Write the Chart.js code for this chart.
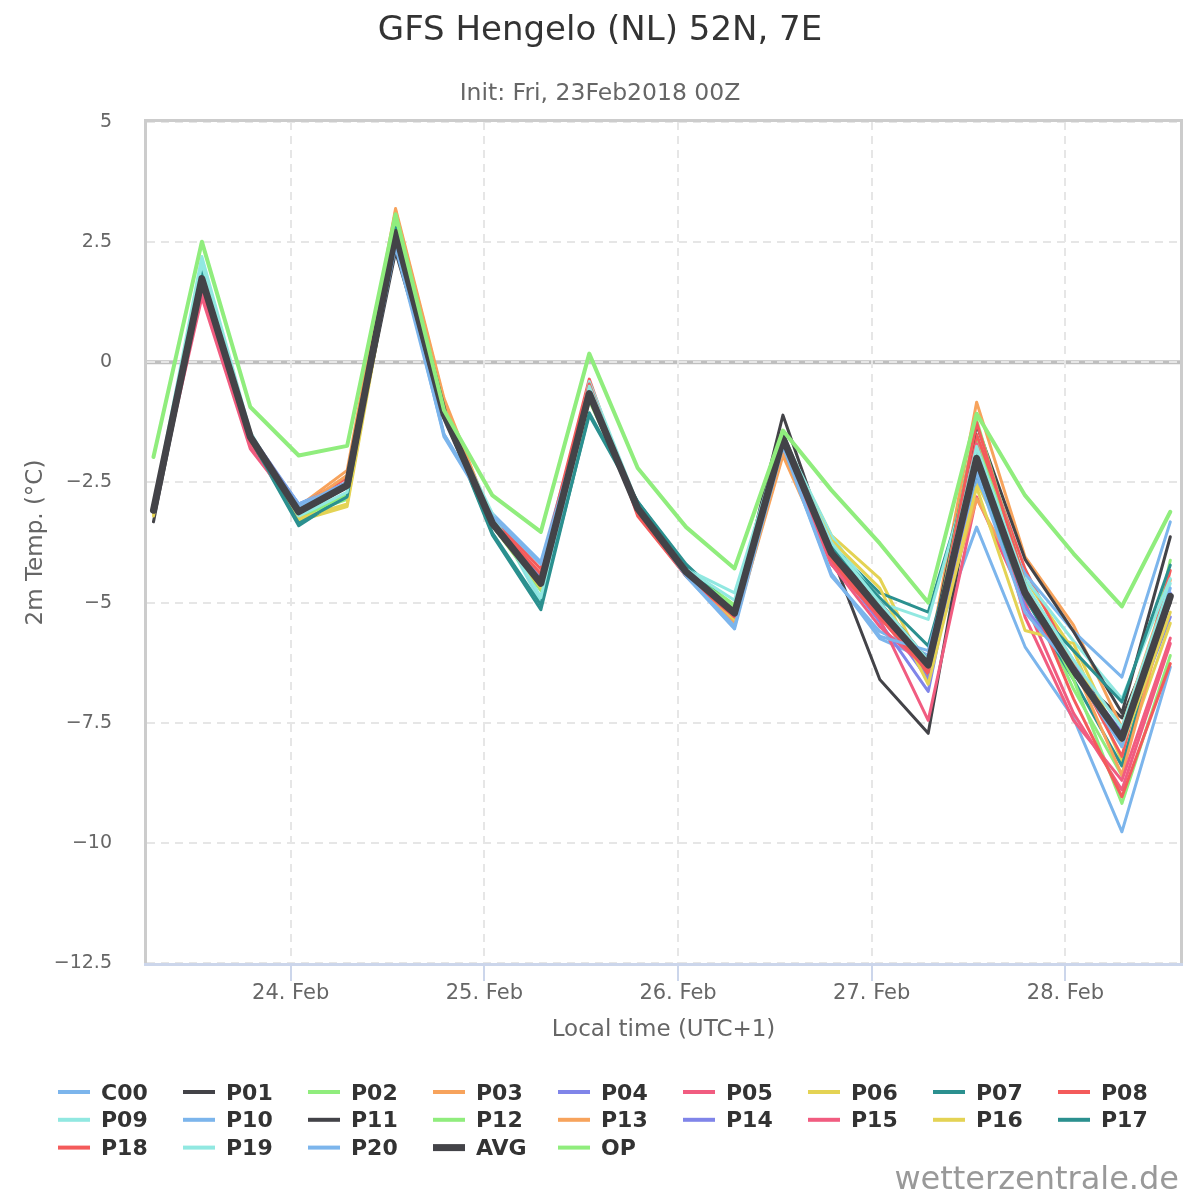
<!DOCTYPE html>
<html>
<head>
<meta charset="utf-8">
<title>GFS Hengelo (NL) 52N, 7E</title>
<script src="https://cdn.jsdelivr.net/npm/chart.js@4.4.1/dist/chart.umd.min.js"></script>
<style>
  html, body { margin: 0; padding: 0; background: #fff; }
  canvas { display: block; }
</style>
</head>
<body>
<canvas id="chart" width="1200" height="1200"></canvas>
<script>
// hours after 24 Feb 00:00 local time (UTC+1), one run step every 6 h
const hours = [-17, -11, -5, 1, 7, 13, 19, 25, 31, 37, 43, 49, 55, 61, 67, 73, 79, 85, 91, 97, 103, 109];
const dayTicks = [0, 24, 48, 72, 96];
const dayLabels = ['24. Feb', '25. Feb', '26. Feb', '27. Feb', '28. Feb'];

// 2m temperature (°C) per ensemble member
const c00 = [-3.05, 1.80, -1.50, -2.95, -2.50, 2.65, -1.50, -3.15, -4.15, -0.60, -3.00, -4.45, -5.55, -1.75, -4.40, -5.75, -6.20, -3.43, -5.92, -7.40, -9.77, -6.34];
const p01 = [-3.32, 1.70, -1.50, -3.15, -2.60, 2.50, -1.10, -3.40, -4.70, -0.70, -3.00, -4.35, -5.20, -1.10, -4.00, -6.60, -7.72, -2.10, -4.90, -6.50, -7.40, -5.00];
const p02 = [-3.10, 1.90, -1.55, -3.20, -2.85, 2.90, -1.00, -3.30, -4.70, -0.70, -3.05, -4.30, -5.05, -1.50, -3.90, -5.10, -6.55, -1.60, -4.60, -6.80, -8.60, -4.12];
const p03 = [-3.05, 1.75, -1.60, -3.00, -2.25, 3.20, -0.75, -3.30, -4.50, -0.55, -3.05, -4.40, -5.45, -1.94, -4.20, -5.30, -6.20, -0.83, -4.05, -5.47, -7.60, -4.53];
const p04 = [-3.10, 1.70, -1.55, -2.95, -2.50, 2.70, -1.10, -3.35, -4.55, -0.70, -3.05, -4.40, -5.25, -1.60, -4.10, -5.40, -6.85, -1.90, -4.70, -6.20, -7.90, -5.30];
const p05 = [-3.10, 1.50, -1.75, -3.10, -2.55, 2.60, -1.15, -3.40, -4.60, -0.60, -3.10, -4.40, -5.30, -1.70, -4.10, -5.35, -7.45, -2.80, -5.00, -7.30, -8.90, -5.85];
const p06 = [-3.20, 1.80, -1.50, -3.30, -3.00, 2.60, -1.10, -3.40, -4.70, -0.70, -3.00, -4.30, -5.40, -1.60, -3.60, -4.50, -6.50, -2.50, -4.50, -6.00, -8.30, -5.43];
const p07 = [-3.10, 1.85, -1.60, -3.40, -2.75, 2.75, -1.10, -3.60, -5.15, -1.05, -2.90, -4.20, -5.15, -1.50, -3.80, -4.80, -5.20, -1.90, -4.90, -6.60, -8.40, -4.90];
const p08 = [-3.05, 1.65, -1.50, -3.00, -2.40, 2.70, -1.00, -3.25, -4.30, -0.35, -3.20, -4.45, -5.35, -1.65, -4.20, -5.30, -6.50, -1.50, -4.30, -6.30, -8.20, -4.33];
const p09 = [-3.00, 2.20, -1.45, -3.15, -2.80, 2.75, -1.05, -3.15, -5.00, -0.40, -2.95, -4.30, -4.80, -1.55, -3.60, -5.00, -5.35, -1.80, -4.50, -5.80, -7.00, -4.50];
const p10 = [-3.05, 1.80, -1.55, -2.95, -2.50, 2.60, -1.55, -3.20, -4.90, -0.75, -3.10, -4.45, -5.45, -1.75, -4.45, -5.60, -6.10, -2.42, -4.40, -5.60, -6.55, -3.32];
const p11 = [-3.10, 1.75, -1.55, -3.10, -2.60, 2.30, -1.10, -3.30, -4.60, -0.70, -3.05, -4.35, -5.20, -1.55, -3.90, -5.00, -6.20, -1.30, -4.10, -5.60, -7.30, -3.63];
const p12 = [-3.10, 1.75, -1.60, -3.25, -2.75, 2.80, -1.00, -3.40, -4.75, -0.80, -3.00, -4.30, -5.10, -1.60, -3.90, -5.20, -6.40, -1.20, -4.60, -6.60, -9.18, -6.10];
const p13 = [-3.05, 1.70, -1.55, -3.05, -2.35, 3.15, -0.80, -3.30, -4.45, -0.60, -3.05, -4.35, -5.40, -1.90, -4.00, -5.20, -6.30, -2.84, -4.70, -6.30, -8.59, -4.90];
const p14 = [-3.10, 1.70, -1.50, -3.00, -2.50, 2.75, -1.15, -3.35, -4.50, -0.65, -3.10, -4.40, -5.30, -1.65, -4.00, -5.20, -6.60, -2.20, -5.10, -6.40, -7.70, -4.80];
const p15 = [-3.05, 1.35, -1.80, -3.10, -2.60, 2.60, -1.10, -3.35, -4.55, -0.65, -3.10, -4.40, -5.25, -1.70, -4.20, -5.50, -6.40, -1.70, -5.30, -7.45, -8.70, -5.74];
const p16 = [-3.15, 1.75, -1.55, -3.25, -2.95, 2.70, -1.10, -3.40, -4.70, -0.75, -3.00, -4.35, -5.35, -1.65, -3.70, -4.70, -6.70, -2.60, -5.58, -5.85, -8.00, -5.20];
const p17 = [-3.10, 1.90, -1.60, -3.35, -2.80, 2.80, -1.10, -3.55, -5.05, -1.10, -2.90, -4.25, -5.20, -1.60, -3.85, -4.90, -5.90, -2.30, -4.90, -6.00, -7.07, -4.22];
const p18 = [-3.10, 1.60, -1.65, -3.05, -2.50, 2.65, -1.05, -3.30, -4.40, -0.45, -3.15, -4.45, -5.30, -1.60, -4.10, -5.30, -6.45, -1.25, -4.60, -7.00, -9.04, -6.27];
const p19 = [-3.05, 2.05, -1.50, -3.20, -2.70, 2.70, -1.05, -3.20, -4.90, -0.50, -3.00, -4.30, -4.95, -1.55, -3.75, -5.00, -6.20, -1.75, -4.60, -6.20, -7.60, -4.60];
const p20 = [-3.05, 1.75, -1.55, -3.00, -2.50, 2.40, -1.50, -3.20, -4.20, -0.70, -3.05, -4.45, -5.50, -1.75, -4.40, -5.70, -6.00, -2.30, -5.20, -6.40, -8.00, -4.70];
const avg = [-3.08, 1.74, -1.55, -3.11, -2.56, 2.70, -1.08, -3.35, -4.60, -0.65, -3.04, -4.36, -5.22, -1.58, -3.97, -5.16, -6.30, -2.00, -4.80, -6.40, -7.82, -4.87];
const op  = [-1.97, 2.51, -0.93, -1.94, -1.74, 3.08, -1.00, -2.77, -3.53, 0.18, -2.20, -3.43, -4.29, -1.42, -2.66, -3.77, -5.00, -1.07, -2.77, -3.98, -5.08, -3.11];

const seriesNames = ['C00', 'P01', 'P02', 'P03', 'P04', 'P05', 'P06', 'P07', 'P08', 'P09', 'P10',
  'P11', 'P12', 'P13', 'P14', 'P15', 'P16', 'P17', 'P18', 'P19', 'P20', 'AVG', 'OP'];
const seriesValues = [c00, p01, p02, p03, p04, p05, p06, p07, p08, p09, p10,
  p11, p12, p13, p14, p15, p16, p17, p18, p19, p20, avg, op];
const palette = ['#7cb5ec', '#434348', '#90ed7d', '#f7a35c', '#8085e9', '#f15c80', '#e4d354', '#2b908f', '#f45b5b', '#91e8e1'];

const FONT = '"DejaVu Sans", sans-serif';
Chart.defaults.font.family = FONT;

const datasets = seriesNames.map((name, i) => ({
  label: name,
  data: hours.map((h, j) => ({ x: h, y: seriesValues[i][j] })),
  borderColor: palette[i % palette.length],
  borderWidth: name === 'AVG' ? 7 : (name === 'OP' ? 4 : 3),
  pointRadius: 0,
  tension: 0,
  fill: false,
  borderJoinStyle: 'round',
  borderCapStyle: 'round',
  order: seriesNames.length - i // later series on top
}));

// grey zero line under the grid
const zeroLine = {
  id: 'zeroLine',
  beforeDraw(chart) {
    const { ctx, chartArea } = chart;
    const y = chart.scales.y.getPixelForValue(0);
    ctx.save();
    ctx.strokeStyle = '#bfbfbf';
    ctx.lineWidth = 4;
    ctx.beginPath();
    ctx.moveTo(chartArea.left, y);
    ctx.lineTo(chartArea.right, y);
    ctx.stroke();
    ctx.restore();
  }
};

const plotFrame = {
  id: 'plotFrame',
  afterDatasetsDraw(chart) {
    const { ctx, chartArea: a } = chart;
    ctx.save();
    ctx.strokeStyle = '#cccccc';
    ctx.lineWidth = 3;
    ctx.strokeRect(a.left - 1.5, a.top - 1.5, a.right - a.left + 3, a.bottom - a.top + 3);
    ctx.strokeStyle = '#ccd6eb';
    ctx.beginPath();
    ctx.moveTo(a.left - 3, a.bottom + 1.5);
    ctx.lineTo(a.right + 3, a.bottom + 1.5);
    ctx.stroke();
    ctx.restore();
  }
};

// title, subtitle, 9-column legend and credit
const texts = {
  id: 'texts',
  afterDraw(chart) {
    const ctx = chart.ctx;
    ctx.save();
    ctx.textAlign = 'center';
    ctx.textBaseline = 'alphabetic';
    ctx.fillStyle = '#333333';
    ctx.font = '34px ' + FONT;
    ctx.fillText('GFS Hengelo (NL) 52N, 7E', 600, 40);
    ctx.fillStyle = '#666666';
    ctx.font = '23.5px ' + FONT;
    ctx.fillText('Init: Fri, 23Feb2018 00Z', 600, 100);

    ctx.textAlign = 'left';
    ctx.font = 'bold 22px ' + FONT;
    chart.data.datasets.forEach((ds, i) => {
      const x = 58 + (i % 9) * 125;
      const y = 1092 + Math.floor(i / 9) * 27.8;
      ctx.strokeStyle = ds.borderColor;
      ctx.lineWidth = ds.label === 'AVG' ? 7 : 4;
      ctx.beginPath();
      ctx.moveTo(x, y);
      ctx.lineTo(x + 32, y);
      ctx.stroke();
      ctx.fillStyle = '#333333';
      ctx.fillText(ds.label, x + 43, y + 7.5);
    });

    ctx.textAlign = 'right';
    ctx.fillStyle = '#999999';
    ctx.font = '32px ' + FONT;
    ctx.fillText('wetterzentrale.de', 1179, 1189);
    ctx.restore();
  }
};

new Chart(document.getElementById('chart'), {
  type: 'line',
  data: { datasets },
  options: {
    responsive: false,
    animation: false,
    layout: { padding: { top: 122, right: 20, bottom: 0, left: 0 } },
    plugins: {
      legend: { display: false },
      title: { display: false },
      tooltip: { enabled: false }
    },
    scales: {
      x: {
        type: 'linear',
        min: -17.8,
        max: 110.2,
        afterFit: (scale) => { scale.height = 237; },
        afterBuildTicks: (scale) => { scale.ticks = dayTicks.map(v => ({ value: v })); },
        grid: {
          color: '#e6e6e6',
          lineWidth: 2,
          drawTicks: true,
          tickLength: 18,
          tickColor: '#ccd6eb',
          tickWidth: 2
        },
        border: { display: false, dash: [8, 6] },
        ticks: {
          color: '#666666',
          font: { size: 21, lineHeight: 1 },
          padding: 2,
          maxRotation: 0,
          autoSkip: false,
          callback: (value) => dayLabels[dayTicks.indexOf(value)]
        },
        title: {
          display: true,
          text: 'Local time (UTC+1)',
          color: '#666666',
          font: { size: 23, lineHeight: 1.2 },
          padding: { top: 0, bottom: 156 }
        }
      },
      y: {
        min: -12.5,
        max: 5,
        afterFit: (scale) => { scale.width = 147; },
        grid: {
          color: '#e6e6e6',
          lineWidth: 2,
          drawTicks: false
        },
        border: { display: false, dash: [8, 6] },
        ticks: {
          stepSize: 2.5,
          color: '#666666',
          font: { size: 19 },
          padding: 35,
          callback: (v) => (v < 0 ? '\u2212' + Math.abs(v) : String(v))
        },
        title: {
          display: true,
          text: '2m Temp. (°C)',
          color: '#666666',
          font: { size: 23, lineHeight: 1.2 },
          padding: { top: 22, bottom: 0 }
        }
      }
    }
  },
  plugins: [zeroLine, plotFrame, texts]
});
</script>
</body>
</html>
